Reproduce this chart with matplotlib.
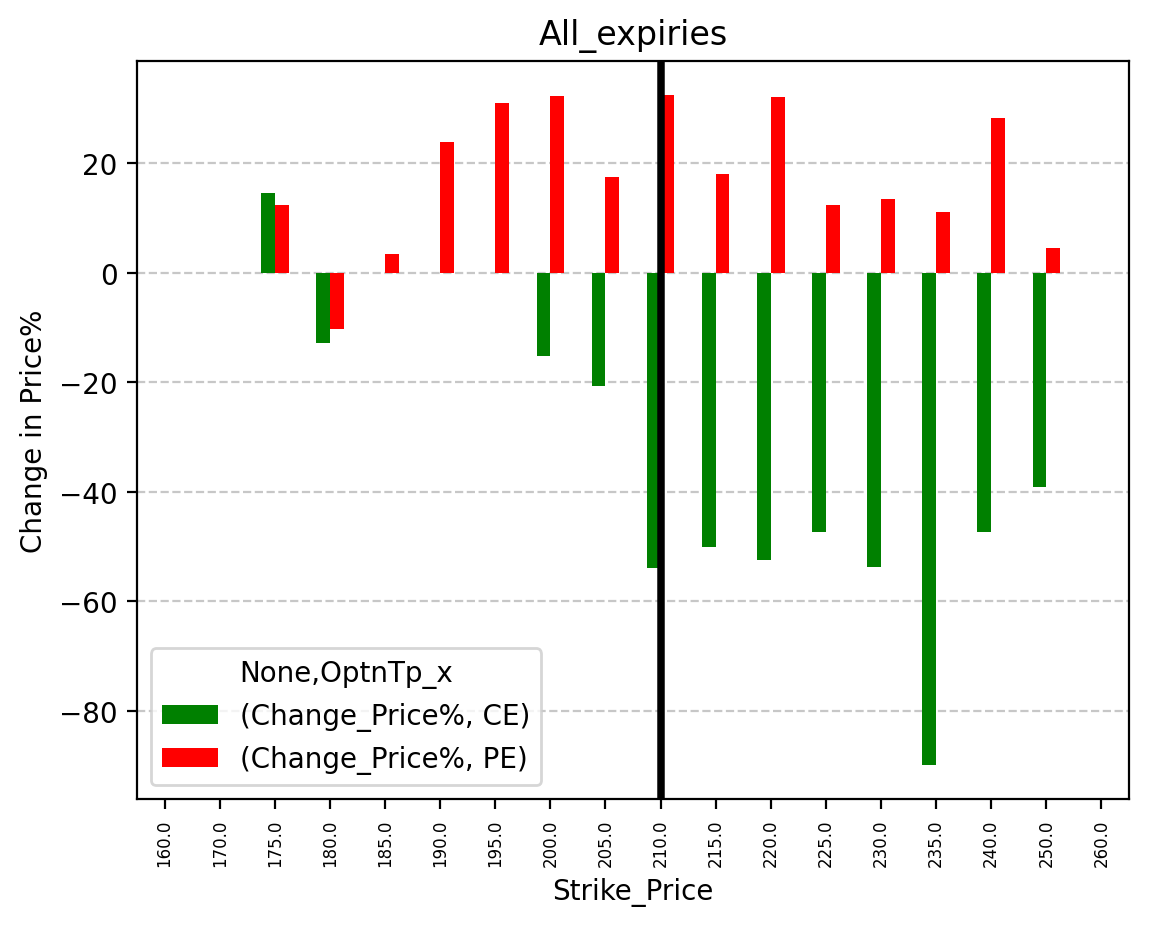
import numpy as np
import matplotlib
matplotlib.use("Agg")
import matplotlib.pyplot as plt

nan = np.nan
strikes = ["160.0", "170.0", "175.0", "180.0", "185.0", "190.0", "195.0", "200.0", "205.0",
           "210.0", "215.0", "220.0", "225.0", "230.0", "235.0", "240.0", "250.0", "260.0"]
ce_values = [nan, nan, 14.6, -12.8, nan, nan, nan, -15.2, -20.6,
             -53.9, -50.1, -52.5, -47.4, -53.8, -90.0, -47.4, -39.1, nan]
pe_values = [nan, nan, 12.4, -10.2, 3.4, 23.9, 31.0, 32.3, 17.5,
             32.6, 18.0, 32.1, 12.5, 13.6, 11.1, 28.4, 4.5, nan]
atm_strike = "210.0"

fig = plt.figure(figsize=(1149 / 200, 928 / 200), dpi=200)
ax = fig.add_axes([137 / 1149, 128 / 928, 992 / 1149, 738 / 928])

x = np.arange(len(strikes))
w = 0.25
ax.bar(x - w / 2, ce_values, width=w, color="green", label="(Change_Price%, CE)")
ax.bar(x + w / 2, pe_values, width=w, color="red", label="(Change_Price%, PE)")

ax.set_xlim(-0.5, len(strikes) - 0.5)
ax.set_xticks(x)
ax.set_xticklabels(strikes, rotation=90, fontsize=6)
ax.grid(axis="y", linestyle="--", alpha=0.7)
ax.set_axisbelow(True)
ax.axvline(strikes.index(atm_strike), color="black", linewidth=2.7)

ax.set_title("All_expiries")
ax.set_xlabel("Strike_Price")
ax.set_ylabel("Change in Price%")
ax.legend(title="None,OptnTp_x", loc="lower left")

fig.savefig("out.png", dpi=200)
